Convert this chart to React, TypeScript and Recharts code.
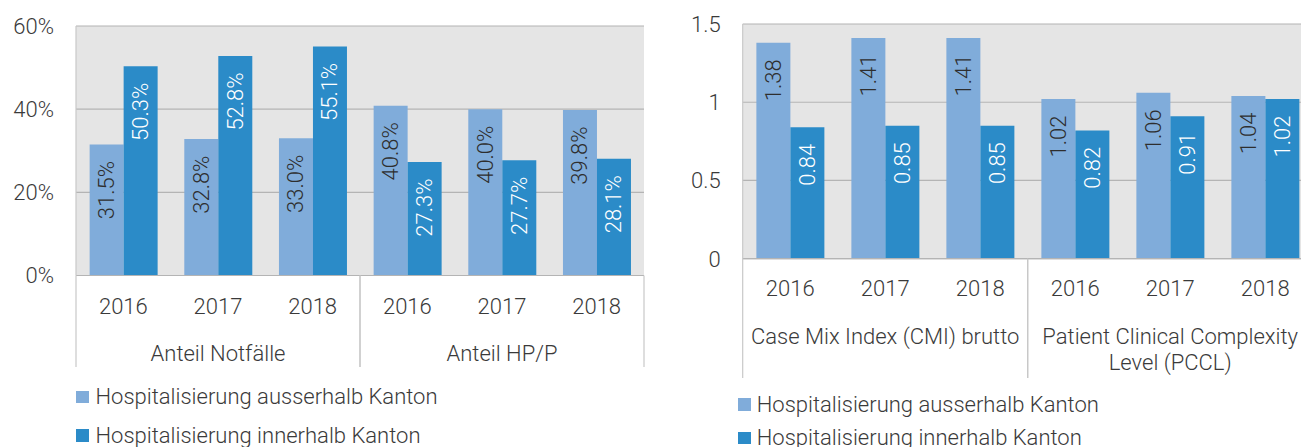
import React from 'react';
import { BarChart, Bar, XAxis, YAxis, CartesianGrid, LabelList, Legend } from 'recharts';

// ---------- data ----------
const years = ['2016', '2017', '2018', '2016', '2017', '2018'];
const seriesNames = ['Hospitalisierung ausserhalb Kanton', 'Hospitalisierung innerhalb Kanton'];

const leftGroups = ['Anteil Notfälle', 'Anteil Notfälle', 'Anteil Notfälle', 'Anteil HP/P', 'Anteil HP/P', 'Anteil HP/P'];
const leftOutside = [31.5, 32.8, 33.0, 40.8, 40.0, 39.8];
const leftInside = [50.3, 52.8, 55.1, 27.3, 27.7, 28.1];
const leftTicks = [0, 20, 40, 60];

const rightGroups = [
  'Case Mix Index (CMI) brutto',
  'Case Mix Index (CMI) brutto',
  'Case Mix Index (CMI) brutto',
  'Patient Clinical Complexity\nLevel (PCCL)',
  'Patient Clinical Complexity\nLevel (PCCL)',
  'Patient Clinical Complexity\nLevel (PCCL)',
];
const rightOutside = [1.38, 1.41, 1.41, 1.02, 1.06, 1.04];
const rightInside = [0.84, 0.85, 0.85, 0.82, 0.91, 1.02];
const rightTicks = [0, 0.5, 1, 1.5];

// ---------- style ----------
const LIGHT = '#80ACDA';
const DARK = '#2B8BC8';
const PLOT_BG = '#E5E5E5';
const GRID = '#B4B4B4';
const BORDER = '#C8C8C8';
const TEXT = '#3A3A3A';
const FONT = { fontFamily: 'Roboto, "Open Sans", sans-serif', fontWeight: 300, fontSize: 22 } as const;

const buildData = (groups: string[], outside: number[], inside: number[]) =>
  years.map((y, i) => ({ key: `${groups[i]}|${y}|${i}`, year: y, group: groups[i], outside: outside[i], inside: inside[i] }));

type ChartCfg = {
  left: number;
  width: number;
  marginTop: number;
  marginRight: number;
  yAxisWidth: number;
  yearAxisH: number;
  groupAxisH: number;
  ticks: number[];
  domainMax: number;
  tickFmt: (v: number) => string;
  labelFmt: (v: number) => string;
  data: any[];
  yearOffset: number;
  sepBottom: number;
  legendLeft: number;
  legendTop: number;
  legendRowH: number;
  legendGap: number;
};

const makeBarLabel = (fill: string, fmt: (v: number) => string) => (props: any) => {
  const x = Number(props.x ?? props.viewBox?.x);
  const y = Number(props.y ?? props.viewBox?.y);
  const w = Number(props.width ?? props.viewBox?.width);
  const cx = x + w / 2;
  const ty = y + 16.5;
  return (
    <text
      x={cx}
      y={ty}
      transform={`rotate(-90 ${cx} ${ty})`}
      textAnchor="end"
      dominantBaseline="central"
      fill={fill}
      style={FONT}
    >
      {fmt(Number(props.value))}
    </text>
  );
};

const SplitChart = ({ cfg }: { cfg: ChartCfg }) => {
  const height = 447;
  const plotW = cfg.width - cfg.yAxisWidth - cfg.marginRight;
  const halfW = plotW / 2;

  const YearTick = (props: any) => {
    const { x, y, index } = props;
    return (
      <text x={x} y={y + cfg.yearOffset} textAnchor="middle" dominantBaseline="central" fill={TEXT} style={FONT}>
        {cfg.data[index]?.year}
      </text>
    );
  };

  const GroupTick = (props: any) => {
    const { x, y, payload } = props;
    const top = y - cfg.yearAxisH;
    const lines = String(payload.value).split('\n');
    return (
      <g>
        <line x1={x - halfW / 2} x2={x - halfW / 2} y1={top} y2={top + cfg.sepBottom} stroke={BORDER} strokeWidth={1.2} />
        <line x1={x + halfW / 2} x2={x + halfW / 2} y1={top} y2={top + cfg.sepBottom} stroke={BORDER} strokeWidth={1.2} />
        <text textAnchor="middle" dominantBaseline="central" fill={TEXT} style={FONT}>
          {lines.map((ln, i) => (
            <tspan key={i} x={x} y={y + 17 + i * 26.6}>
              {ln}
            </tspan>
          ))}
        </text>
      </g>
    );
  };

  const LegendContent = (props: any) => {
    const payload = props.payload || [];
    return (
      <div>
        {payload.map((p: any, i: number) => (
          <div key={i} style={{ height: cfg.legendRowH, display: 'flex', alignItems: 'center' }}>
            <span style={{ display: 'inline-block', width: 12.5, height: 12.5, background: p.color, marginRight: cfg.legendGap }} />
            <span style={{ ...FONT, color: TEXT, lineHeight: 1, whiteSpace: 'nowrap' }}>{p.value}</span>
          </div>
        ))}
      </div>
    );
  };

  return (
    <div style={{ position: 'absolute', left: cfg.left, top: 0, width: cfg.width, height }}>
      <BarChart
        width={cfg.width}
        height={height}
        data={cfg.data}
        margin={{ top: cfg.marginTop, right: cfg.marginRight, left: 0, bottom: 0 }}
        barCategoryGap="14.4%"
        barGap={0}
      >
        <CartesianGrid fill={PLOT_BG} stroke={GRID} strokeWidth={1.2} vertical={false} />
        <XAxis
          dataKey="key"
          height={cfg.yearAxisH}
          tickLine={false}
          tickSize={0}
          tickMargin={0}
          axisLine={{ stroke: GRID, strokeWidth: 1.2 }}
          interval={0}
          tick={<YearTick />}
        />
        <XAxis
          xAxisId="grp"
          dataKey="group"
          allowDuplicatedCategory={false}
          height={cfg.groupAxisH}
          tickLine={false}
          tickSize={0}
          tickMargin={0}
          axisLine={false}
          interval={0}
          tick={<GroupTick />}
        />
        <YAxis
          width={cfg.yAxisWidth}
          domain={[0, cfg.domainMax]}
          ticks={cfg.ticks}
          tickFormatter={cfg.tickFmt}
          tickLine={false}
          tickSize={0}
          tickMargin={22}
          axisLine={{ stroke: BORDER, strokeWidth: 1.2 }}
          tick={{ fill: TEXT, ...FONT }}
          interval={0}
        />
        <YAxis
          yAxisId="r"
          orientation="right"
          width={0}
          domain={[0, cfg.domainMax]}
          ticks={cfg.ticks}
          tick={false}
          tickLine={false}
          axisLine={{ stroke: BORDER, strokeWidth: 1.2 }}
        />
        <Legend
          layout="vertical"
          align="center"
          verticalAlign="middle"
          content={<LegendContent />}
          wrapperStyle={{ left: cfg.legendLeft, top: cfg.legendTop, width: 560, height: 'auto' }}
        />
        <Bar dataKey="outside" name={seriesNames[0]} fill={LIGHT} isAnimationActive={false}>
          <LabelList dataKey="outside" content={makeBarLabel('#2E2E2E', cfg.labelFmt)} />
        </Bar>
        <Bar dataKey="inside" name={seriesNames[1]} fill={DARK} isAnimationActive={false}>
          <LabelList dataKey="inside" content={makeBarLabel('#FFFFFF', cfg.labelFmt)} />
        </Bar>
      </BarChart>
    </div>
  );
};

const leftCfg: ChartCfg = {
  left: 0,
  width: 660,
  marginTop: 26,
  marginRight: 16,
  yAxisWidth: 76,
  yearAxisH: 60,
  groupAxisH: 111.5,
  ticks: leftTicks,
  domainMax: 60,
  tickFmt: (v) => `${v}%`,
  labelFmt: (v) => `${v.toFixed(1)}%`,
  data: buildData(leftGroups, leftOutside, leftInside),
  yearOffset: 30.5,
  sepBottom: 91.5,
  legendLeft: 76,
  legendTop: 377.75,
  legendRowH: 38.5,
  legendGap: 7,
};

const rightCfg: ChartCfg = {
  left: 660,
  width: 660,
  marginTop: 24,
  marginRight: 7.3,
  yAxisWidth: 82.7,
  yearAxisH: 60,
  groupAxisH: 128.3,
  ticks: rightTicks,
  domainMax: 1.5,
  tickFmt: (v) => `${v}`,
  labelFmt: (v) => v.toFixed(2),
  data: buildData(rightGroups, rightOutside, rightInside),
  yearOffset: 30,
  sepBottom: 119.3,
  legendLeft: 78.3,
  legendTop: 387.75,
  legendRowH: 33.5,
  legendGap: 6,
};

export default function App() {
  return (
    <div style={{ position: 'absolute', left: 0, top: 0, width: 1301, height: 447, overflow: 'hidden', background: '#FFFFFF' }}>
      <SplitChart cfg={leftCfg} />
      <SplitChart cfg={rightCfg} />
    </div>
  );
}
